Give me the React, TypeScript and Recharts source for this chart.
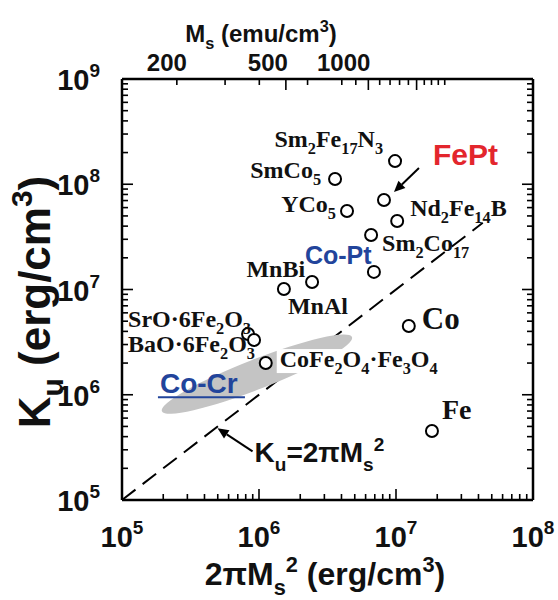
import { ScatterChart, Scatter, XAxis, YAxis, ReferenceLine, ReferenceDot } from 'recharts';

// material labels use _{..} for subscripts and ^{..} for superscripts
const materials = [
  'Sm_{2}Fe_{17}N_{3}', 'SmCo_{5}', 'FePt', 'YCo_{5}', 'Nd_{2}Fe_{14}B', 'Sm_{2}Co_{17}', 'Co-Pt',
  'MnBi', 'MnAl', 'SrO·6Fe_{2}O_{3}', 'BaO·6Fe_{2}O_{3}', 'CoFe_{2}O_{4}·Fe_{3}O_{4}', 'Co', 'Fe',
];
// 2*pi*Ms^2 (erg/cm3)
const twoPiMs2 = [9.84e6, 3.59e6, 8.17e6, 4.39e6, 1.02e7, 6.58e6, 6.9e6, 2.44e6, 1.52e6, 8.32e5, 9.2e5, 1.12e6, 1.24e7, 1.83e7];
// Ku (erg/cm3)
const ku = [1.66e8, 1.12e8, 7.08e7, 5.57e7, 4.48e7, 3.3e7, 1.47e7, 1.18e7, 1.01e7, 3.78e6, 3.31e6, 2.0e6, 4.5e6, 4.53e5];

// Co-Cr thin film region (centre)
const coCrRegion = [{ x: 9.66e5, y: 1.57e6 }];
// Ku = 2*pi*Ms^2 line, start / end
const shapeAnisotropyEnds = [1e5, 4.3e7];
const shapeArrowAt = 4.9e5;

// top axis, Ms (emu/cm3)
const msTicks = [200, 300, 400, 500, 600, 800, 900, 1000, 1100, 1200, 1300, 1400, 1500, 1600, 1700, 1800, 1900];
const msLabels = [200, 500, 1000];
const msMajor = [500, 1000, 1500];

const SERIF = '"Liberation Serif", "Times New Roman", serif';
const SANS = '"Liberation Sans", Arial, sans-serif';
const RED = '#e3262d';
const BLUE = '#22449b';

// label placement relative to each point
const labelPos: Record<string, { dx: number; dy: number; anchor: 'start' | 'end'; size?: number }> = {
  'Sm_{2}Fe_{17}N_{3}': { dx: -12, dy: -14, anchor: 'end' },
  'SmCo_{5}': { dx: -14, dy: -1, anchor: 'end' },
  'YCo_{5}': { dx: -11, dy: 1, anchor: 'end' },
  'Nd_{2}Fe_{14}B': { dx: 13, dy: -5, anchor: 'start' },
  'Sm_{2}Co_{17}': { dx: 11, dy: 16, anchor: 'start' },
  'MnBi': { dx: -7, dy: -5, anchor: 'end' },
  'MnAl': { dx: 4, dy: 25, anchor: 'start' },
  'SrO·6Fe_{2}O_{3}': { dx: -120, dy: -7, anchor: 'start' },
  'BaO·6Fe_{2}O_{3}': { dx: -126, dy: 12, anchor: 'start' },
  'CoFe_{2}O_{4}·Fe_{3}O_{4}': { dx: 14, dy: 4, anchor: 'start' },
  'Co': { dx: 13, dy: 3, anchor: 'start', size: 31 },
  'Fe': { dx: 10, dy: -12, anchor: 'start', size: 28 },
};

const points = materials.map((name, i) => ({ name, x: twoPiMs2[i], y: ku[i] }));

function logTicks(lo: number, hi: number) {
  const out: number[] = [];
  for (let e = lo; e < hi; e++) for (let k = 1; k < 10; k++) out.push(k * Math.pow(10, e));
  out.push(Math.pow(10, hi));
  return out;
}
const xTicks = logTicks(5, 8);
const yTicks = logTicks(5, 9);

function rich(src: string, fs: number) {
  const parts = src.split(/([_^]\{[^}]*\})/).filter(Boolean);
  let shift = 0;
  return parts.map((p, i) => {
    let target = 0;
    let text = p;
    let size = fs;
    if (p.startsWith('_{')) {
      target = fs * 0.3;
      text = p.slice(2, -1);
      size = fs * 0.68;
    } else if (p.startsWith('^{')) {
      target = -fs * 0.42;
      text = p.slice(2, -1);
      size = fs * 0.68;
    }
    const dy = target - shift;
    shift = target;
    return (
      <tspan key={i} dy={dy} fontSize={size}>
        {text}
      </tspan>
    );
  });
}

const isDecade = (v: number) => Math.abs(Math.log10(v) - Math.round(Math.log10(v))) < 1e-6;

const Power = ({ x, y, exp, anchor }: any) => (
  <text x={x} y={y} textAnchor={anchor} fontFamily={SANS} fontWeight="bold" fontSize={29} fill="#111">
    10
    <tspan dy={-13} fontSize={19}>
      {exp}
    </tspan>
  </text>
);

const BottomTick = (props: any) => {
  const { x, y, payload } = props;
  const major = isDecade(payload.value);
  return (
    <g>
      <line x1={x} x2={x} y1={y} y2={y - (major ? 11 : 6)} stroke="#000" strokeWidth={1.6} />
      {major && <Power x={x} y={y + 47} exp={Math.round(Math.log10(payload.value))} anchor="middle" />}
    </g>
  );
};

const TopTick = (props: any) => {
  const { x, y, payload } = props;
  const ms = Math.round(Math.sqrt(payload.value / (2 * Math.PI)));
  const major = msMajor.includes(ms);
  return (
    <g>
      <line x1={x} x2={x} y1={y} y2={y + (major ? 11 : 6)} stroke="#000" strokeWidth={1.6} />
      {msLabels.includes(ms) && (
        <text
          x={x + (ms === 200 ? 10 : 2)}
          y={y - 8}
          textAnchor="end"
          fontFamily={SANS}
          fontWeight="bold"
          fontSize={24}
          fill="#111"
        >
          {ms}
        </text>
      )}
    </g>
  );
};

const LeftTick = (props: any) => {
  const { x, y, payload } = props;
  const major = isDecade(payload.value);
  return (
    <g>
      <line x1={x} x2={x + (major ? 11 : 6)} y1={y} y2={y} stroke="#000" strokeWidth={1.6} />
      {major && <Power x={x - 22} y={y + 11} exp={Math.round(Math.log10(payload.value))} anchor="end" />}
    </g>
  );
};

const RightTick = (props: any) => {
  const { x, y, payload } = props;
  const major = isDecade(payload.value);
  return <line x1={x} x2={x - (major ? 11 : 6)} y1={y} y2={y} stroke="#000" strokeWidth={1.6} />;
};

const Arrow = ({ x1, y1, x2, y2, color = '#000' }: any) => {
  const a = Math.atan2(y2 - y1, x2 - x1);
  const L = 11;
  const W = 5;
  const bx = x2 - L * Math.cos(a);
  const by = y2 - L * Math.sin(a);
  const px = -Math.sin(a) * W;
  const py = Math.cos(a) * W;
  return (
    <g>
      <line x1={x1} y1={y1} x2={bx} y2={by} stroke={color} strokeWidth={2} />
      <polygon points={`${x2},${y2} ${bx + px},${by + py} ${bx - px},${by - py}`} fill={color} />
    </g>
  );
};

const PointShape = (props: any) => {
  const { cx, cy } = props;
  const name: string = (props.payload && props.payload.name) || props.name;
  let label: any = null;
  if (name === 'FePt') {
    label = (
      <g>
        <Arrow x1={cx + 35} y1={cy - 32} x2={cx + 10} y2={cy - 8} />
        <text x={cx + 49} y={cy - 35} fontFamily={SANS} fontWeight="bold" fontSize={30} fill={RED}>
          FePt
        </text>
      </g>
    );
  } else if (name === 'Co-Pt') {
    label = (
      <text x={cx - 69} y={cy - 8} fontFamily={SANS} fontWeight="bold" fontSize={25} fill={BLUE}>
        Co-Pt
      </text>
    );
  } else if (labelPos[name]) {
    const p = labelPos[name];
    const fs = p.size || 24;
    const boxed = name.startsWith('CoFe');
    label = (
      <g>
        {boxed && <rect x={cx + p.dx - 3} y={cy + p.dy - 18} width={162} height={24} fill="#fff" />}
        <text x={cx + p.dx} y={cy + p.dy} textAnchor={p.anchor} fontFamily={SERIF} fontWeight="bold" fontSize={fs} fill="#111">
          {rich(name, fs)}
        </text>
      </g>
    );
  }
  return (
    <g>
      <circle cx={cx} cy={cy} r={6} fill="#fff" stroke="#000" strokeWidth={2} />
      {label}
    </g>
  );
};

const RegionShape = (props: any) => {
  const { cx, cy } = props;
  return (
    <g>
      <ellipse cx={cx} cy={cy} rx={102} ry={15} fill="#c4c4c4" transform={`rotate(-21.3 ${cx} ${cy})`} />
      <text x={cx - 97} y={cy + 19} fontFamily={SANS} fontWeight="bold" fontSize={28} fill={BLUE}>
        Co-Cr
      </text>
      <line x1={cx - 99} x2={cx - 12} y1={cy + 23} y2={cy + 23} stroke={BLUE} strokeWidth={2} />
    </g>
  );
};

const ShapeArrow = (props: any) => {
  const { cx, cy } = props;
  return (
    <g>
      <Arrow x1={cx + 36} y1={cy + 24} x2={cx + 1} y2={cy + 1} />
      <text x={cx + 38} y={cy + 35} fontFamily={SANS} fontWeight="bold" fontSize={28} fill="#111">
        {rich('K_{u}=2πM_{s}^{2}', 28)}
      </text>
    </g>
  );
};

const Nothing = () => <g />;

const axisLine = { stroke: '#000', strokeWidth: 2.5 };

export default function App() {
  return (
    <div style={{ position: 'absolute', left: 0, top: 0, width: 558, height: 600, background: '#fff' }}>
      <ScatterChart width={558} height={600} margin={{ top: 39, right: 20, bottom: 40, left: 62 }}>
        <XAxis
          xAxisId="b"
          type="number"
          dataKey="x"
          scale="log"
          domain={[1e5, 1e8]}
          allowDataOverflow
          ticks={xTicks}
          interval={0}
          height={60}
          tickSize={0}
          tickMargin={0}
          tickLine={false}
          axisLine={axisLine}
          tick={<BottomTick />}
        />
        <XAxis
          xAxisId="t"
          orientation="top"
          type="number"
          dataKey="x"
          scale="log"
          domain={[1e5, 1e8]}
          allowDataOverflow
          ticks={msTicks.map((m) => 2 * Math.PI * m * m)}
          interval={0}
          height={40}
          tickSize={0}
          tickMargin={0}
          tickLine={false}
          axisLine={axisLine}
          tick={<TopTick />}
        />
        <YAxis
          yAxisId="l"
          type="number"
          dataKey="y"
          scale="log"
          domain={[1e5, 1e9]}
          allowDataOverflow
          ticks={yTicks}
          interval={0}
          width={60}
          tickSize={0}
          tickMargin={0}
          tickLine={false}
          axisLine={axisLine}
          tick={<LeftTick />}
        />
        <YAxis
          yAxisId="r"
          orientation="right"
          type="number"
          dataKey="y"
          scale="log"
          domain={[1e5, 1e9]}
          allowDataOverflow
          ticks={yTicks}
          interval={0}
          width={5}
          tickSize={0}
          tickMargin={0}
          tickLine={false}
          axisLine={axisLine}
          tick={<RightTick />}
        />
        <Scatter xAxisId="t" yAxisId="r" data={points} shape={<Nothing />} isAnimationActive={false} />
        <Scatter xAxisId="b" yAxisId="l" data={coCrRegion} shape={<RegionShape />} isAnimationActive={false} />
        <ReferenceLine
          xAxisId="b"
          yAxisId="l"
          segment={[
            { x: shapeAnisotropyEnds[0], y: shapeAnisotropyEnds[0] },
            { x: shapeAnisotropyEnds[1], y: shapeAnisotropyEnds[1] },
          ]}
          stroke="#000"
          strokeWidth={2}
          strokeDasharray="17 9"
        />
        <ReferenceDot xAxisId="b" yAxisId="l" x={shapeArrowAt} y={shapeArrowAt} shape={<ShapeArrow />} />
        <Scatter xAxisId="b" yAxisId="l" data={points} shape={<PointShape />} isAnimationActive={false} />
        <text x={261} y={42} textAnchor="middle" fontFamily={SANS} fontWeight="bold" fontSize={24} fill="#111">
          {rich('M_{s} (emu/cm^{3})', 24)}
        </text>
        <text x={325} y={585} textAnchor="middle" fontFamily={SANS} fontWeight="bold" fontSize={32} fill="#111">
          {rich('2πM_{s}^{2} (erg/cm^{3})', 32)}
        </text>
        <text
          x={50}
          y={302}
          textAnchor="middle"
          transform="rotate(-90 50 302)"
          fontFamily={SANS}
          fontWeight="bold"
          fontSize={44}
          fill="#111"
        >
          {rich('K_{u} (erg/cm^{3})', 44)}
        </text>
      </ScatterChart>
    </div>
  );
}
